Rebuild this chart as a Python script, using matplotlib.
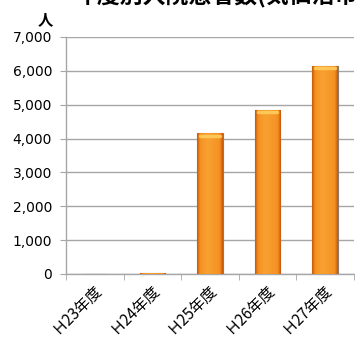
import matplotlib
matplotlib.use("Agg")
import matplotlib.pyplot as plt
import numpy as np

plt.rcParams['font.family'] = ['Noto Sans CJK JP', 'DejaVu Sans']

# Inpatients per fiscal year
years = ["Ｈ23年度", "Ｈ24年度", "Ｈ25年度", "Ｈ26年度", "Ｈ27年度"]
patients = [0, 20, 4150, 4850, 6150]
yticks = [0, 1000, 2000, 3000, 4000, 5000, 6000, 7000]

fig = plt.figure(figsize=(3.55, 3.41), dpi=100)
ax = fig.add_axes([0.186, 0.1965, 0.811, 0.695])

x = np.arange(len(years))
bars = ax.bar(x, patients, width=0.44, color="#F28C1E", edgecolor="#8c7a6a",
              linewidth=0.8, zorder=3)

# horizontal shading across each bar: darker rims, flat orange middle
shade = np.array([0.5, 0.85, 0.95, 1.0, 0.95, 0.9, 0.85, 0.5])
grad = np.interp(np.linspace(0, 1, 64), np.linspace(0, 1, len(shade)), shade)
cmap = matplotlib.colors.LinearSegmentedColormap.from_list(
    "org", ["#c65a0c", "#f28a1c", "#f8a030"])
for b in bars:
    h = b.get_height()
    if h <= 0:
        continue
    x0 = b.get_x()
    im = ax.imshow(grad[np.newaxis, :], cmap=cmap, vmin=0.5, vmax=1.0,
                   extent=[x0, x0 + b.get_width(), 0, h], aspect="auto",
                   zorder=3.5)
    im.set_clip_path(b)
    if h < 500:
        continue
    # light cap at the top
    ax.plot([x0 + 0.05, x0 + b.get_width() - 0.05], [h - 70, h - 70],
            color="#ffd060", lw=2.5, alpha=0.85, zorder=4,
            solid_capstyle="round")

ax.set_xlim(-0.5, len(years) - 0.5)
ax.set_ylim(0, 7000)
ax.set_yticks(yticks)
ax.set_yticklabels([f"{v:,}" for v in yticks], fontsize=10, family="DejaVu Sans")
ax.yaxis.grid(True, color="#a6a6a6", linewidth=1, zorder=0)
ax.set_axisbelow(True)

ax.set_xticks(x - 0.03)
ax.set_xticklabels(years, rotation=45, ha="right", rotation_mode="anchor",
                   fontsize=11)
ax.set_xticks(np.arange(-0.5, len(years)), minor=True)
ax.tick_params(axis="x", which="major", length=0, pad=5)
ax.tick_params(axis="x", which="minor", length=4, color="#a6a6a6")
ax.tick_params(axis="y", length=4, color="#a6a6a6", pad=6)

for side in ["top", "right"]:
    ax.spines[side].set_visible(False)
for side in ["left", "bottom"]:
    ax.spines[side].set_color("#a6a6a6")
    ax.spines[side].set_linewidth(1)

fig.text(0.127, 0.945, "人", fontsize=11, fontweight="bold", ha="center",
         va="center")
fig.text(0.208, 1.012, "年度別入院患者数(気仙沼市)", fontsize=16.5,
         fontweight="bold", ha="left", va="center")

fig.savefig("out.png", dpi=100)
